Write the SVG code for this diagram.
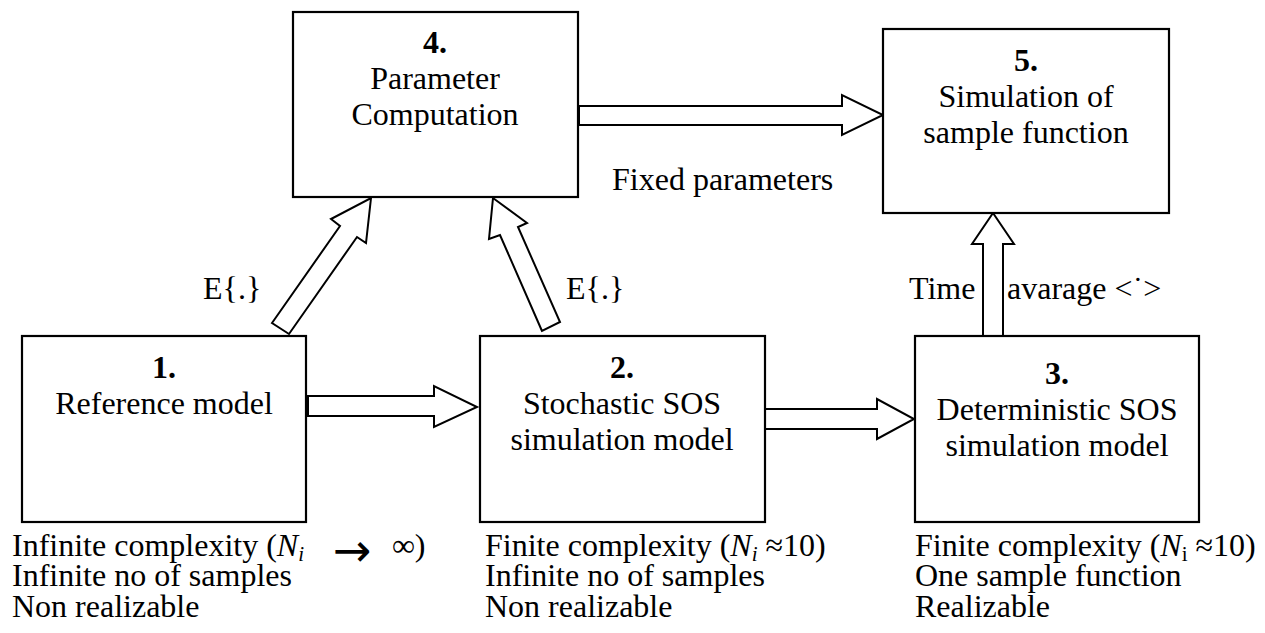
<svg xmlns="http://www.w3.org/2000/svg" width="1265" height="633" viewBox="0 0 1265 633">
  <style>
    .box { fill: #fff; stroke: #000; stroke-width: 2.2; }
    .blk { fill: #fff; stroke: #000; stroke-width: 2; stroke-linejoin: miter; }
    text { font-family: "Liberation Serif", "Times New Roman", serif; font-size: 32px; fill: #000; }
    .c { text-anchor: middle; }
    .b { font-weight: bold; }
    .it { font-style: italic; }
    .sub { font-size: 21px; }
    .sym { font-family: "DejaVu Sans", sans-serif; font-size: 46px; }
  </style>
  <rect width="1265" height="633" fill="#fff"/>

  <!-- block arrows and their labels -->
  <g id="connectors">
    <polygon class="blk" points="579,106 842,106 842,95 883,115 842,135 842,125 579,125"/>
    <polygon class="blk" points="308,396 434,396 434,386 477,407 434,427 434,416 308,416"/>
    <polygon class="blk" points="765,409 877,409 877,399 914,419 877,439 877,429 765,429"/>
    <polygon class="blk" points="983,336 983,244 972,244 993,213 1014,244 1003,244 1003,336"/>
    <polygon class="blk" points="272,323 340,226 331,219 371,198 366,243 357,237 289,334"/>
    <polygon class="blk" points="542,331 500,235 489,239 493,198 527,223 518,227 560,322"/>
    <text x="203" y="299">E{.}</text>
    <text x="566" y="299">E{.}</text>
    <text x="612" y="190">Fixed parameters</text>
    <text x="909" y="299">Time</text>
    <text x="1007" y="299">avarage &lt;˙&gt;</text>
  </g>

  <g id="node4">
    <rect class="box" x="293" y="12" width="285" height="185"/>
    <text class="c b" x="435" y="53">4.</text>
    <text class="c" x="435" y="89">Parameter</text>
    <text class="c" x="435" y="125">Computation</text>
  </g>

  <g id="node5">
    <rect class="box" x="883" y="29" width="286" height="184"/>
    <text class="c b" x="1026" y="71">5.</text>
    <text class="c" x="1026" y="107">Simulation of</text>
    <text class="c" x="1026" y="143">sample function</text>
  </g>

  <g id="node1">
    <rect class="box" x="22" y="336" width="284" height="186"/>
    <text class="c b" x="164" y="378">1.</text>
    <text class="c" x="164" y="414">Reference model</text>
    <text x="12" y="556">Infinite complexity (<tspan class="it">N</tspan><tspan class="it sub" dy="5">i</tspan></text>
    <text class="sym" x="333" y="566">→</text>
    <text x="392" y="556">∞)</text>
    <text x="12" y="586">Infinite no of samples</text>
    <text x="12" y="617">Non realizable</text>
  </g>

  <g id="node2">
    <rect class="box" x="480" y="336" width="285" height="186"/>
    <text class="c b" x="622" y="378">2.</text>
    <text class="c" x="622" y="414">Stochastic SOS</text>
    <text class="c" x="622" y="450">simulation model</text>
    <text x="485" y="556">Finite complexity (<tspan class="it">N</tspan><tspan class="it sub" dy="5">i</tspan><tspan dy="-5"> ≈10)</tspan></text>
    <text x="485" y="586">Infinite no of samples</text>
    <text x="485" y="617">Non realizable</text>
  </g>

  <g id="node3">
    <rect class="box" x="915" y="336" width="284" height="186"/>
    <text class="c b" x="1057" y="384">3.</text>
    <text class="c" x="1057" y="420">Deterministic SOS</text>
    <text class="c" x="1057" y="456">simulation model</text>
    <text x="915" y="556">Finite complexity (<tspan class="it">N</tspan><tspan class="sub" dy="5">i</tspan><tspan dy="-5"> ≈10)</tspan></text>
    <text x="915" y="586">One sample function</text>
    <text x="915" y="617">Realizable</text>
  </g>
</svg>
